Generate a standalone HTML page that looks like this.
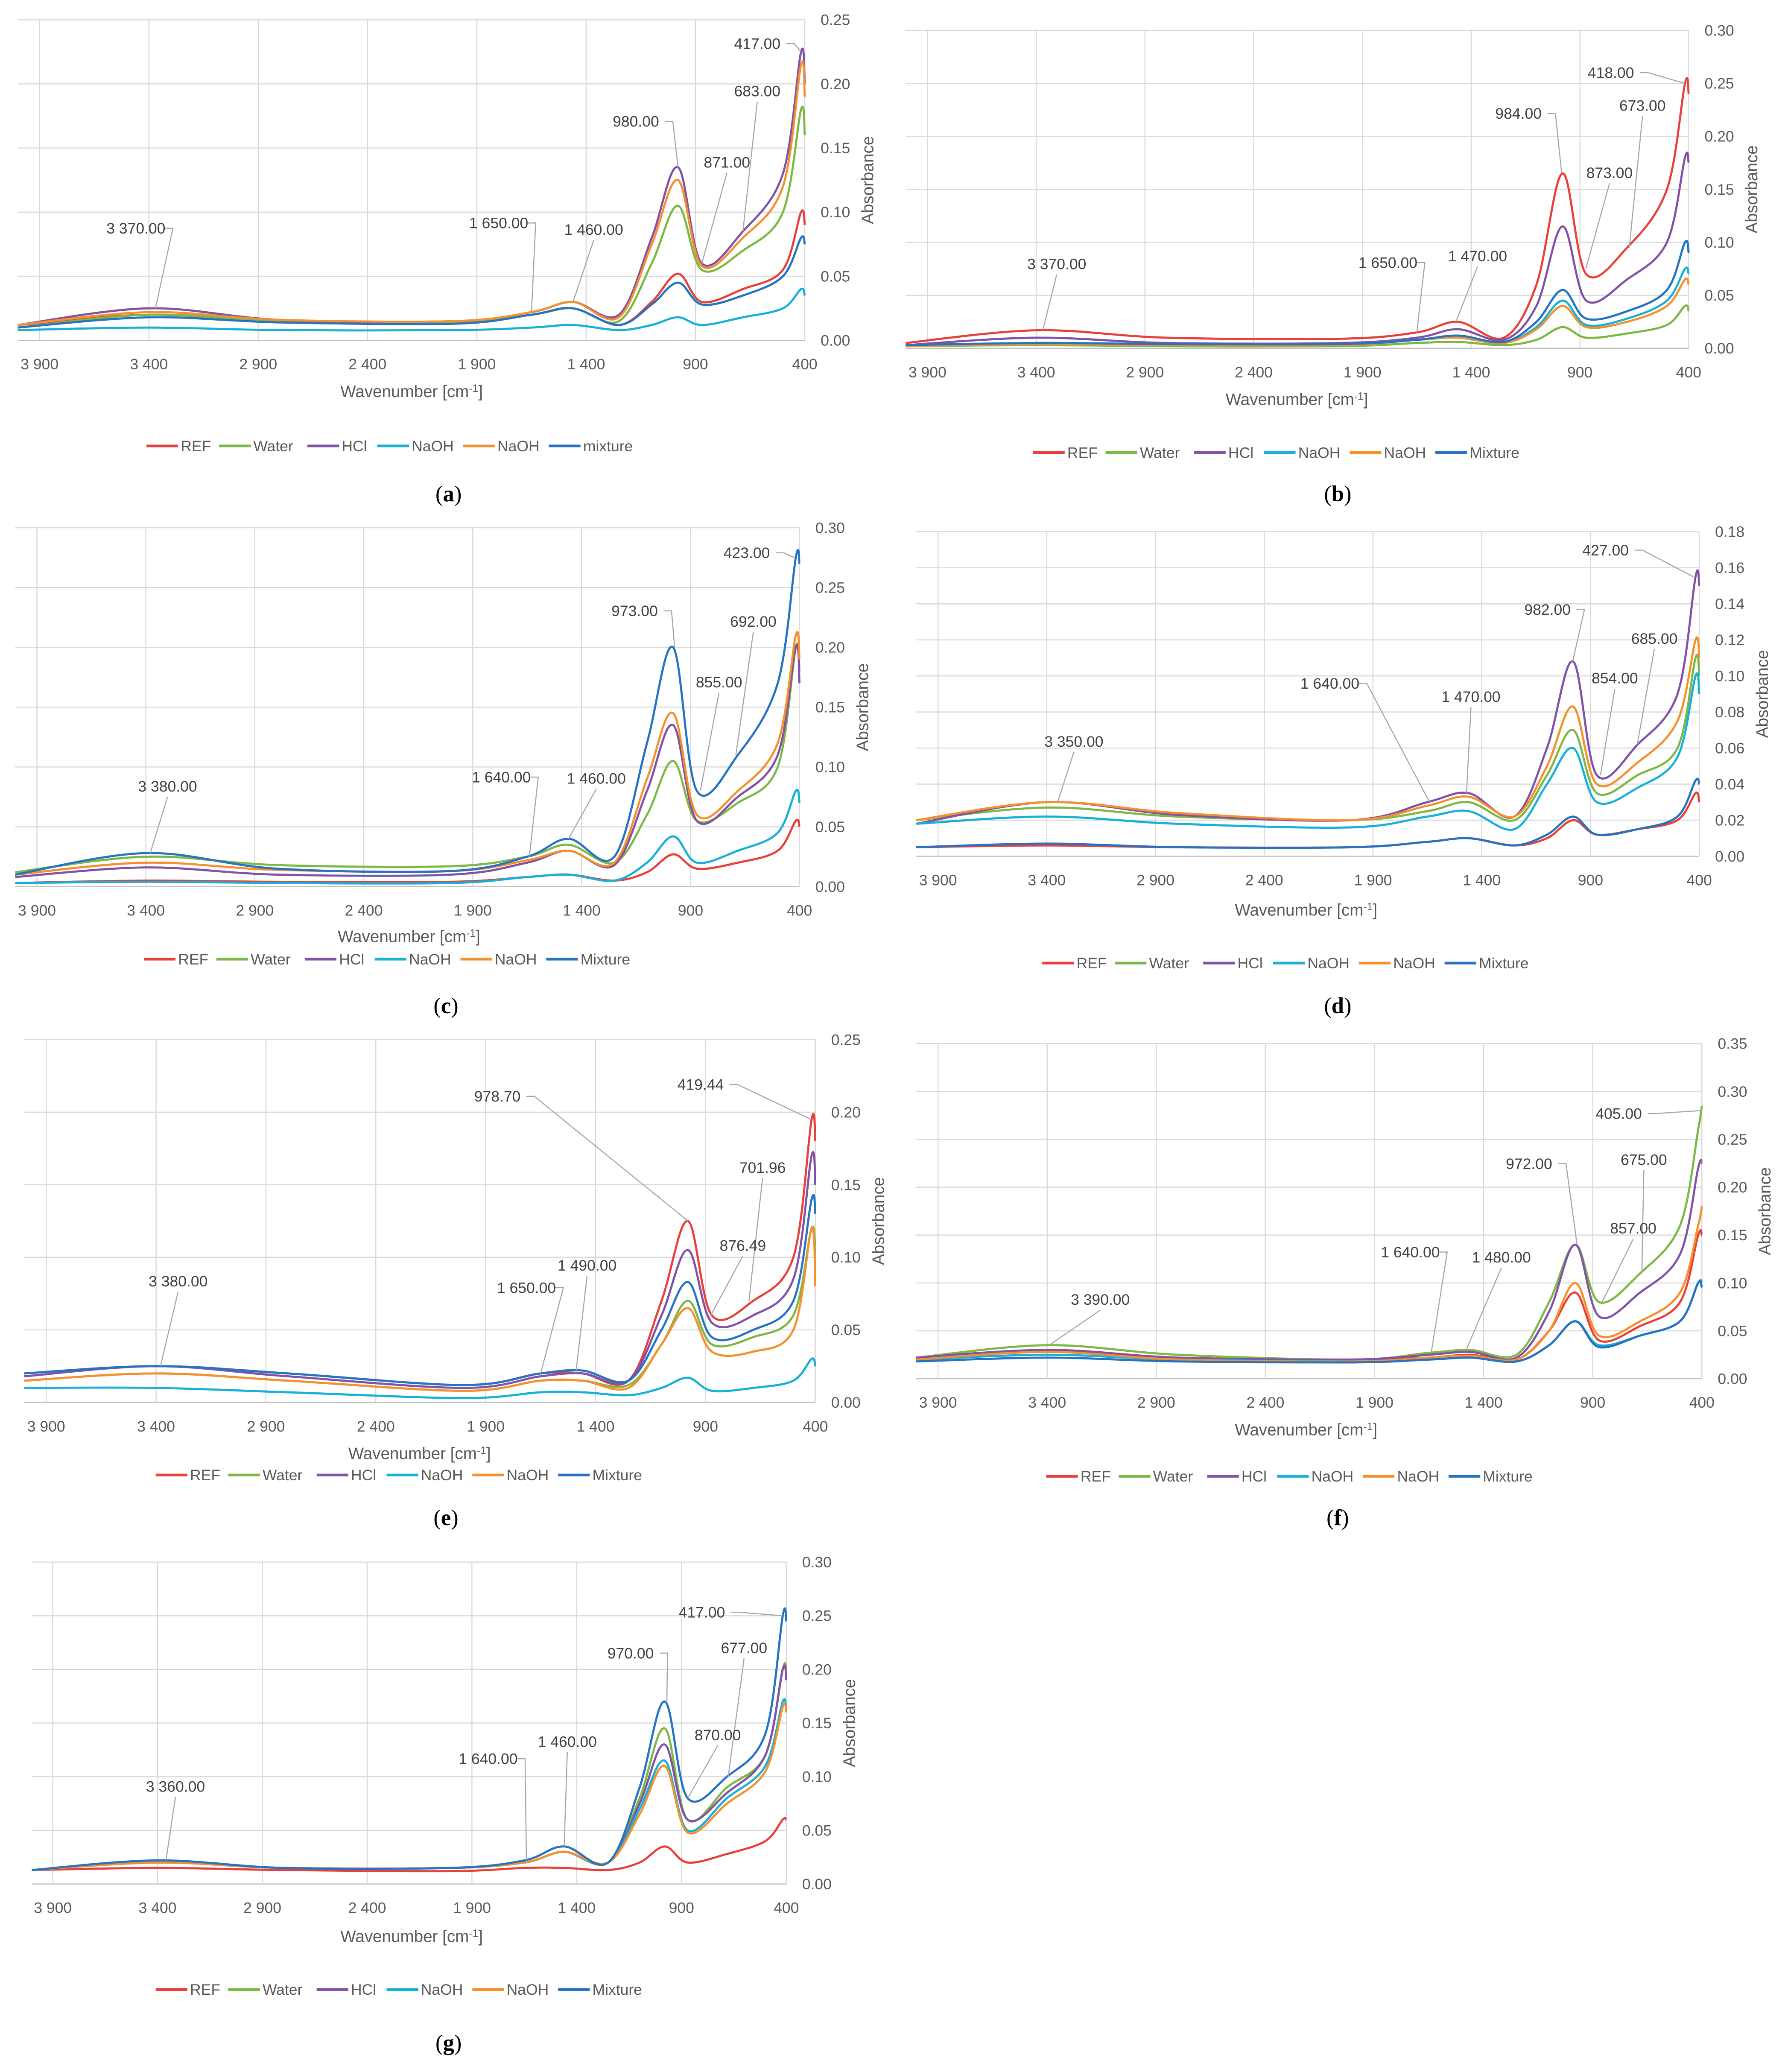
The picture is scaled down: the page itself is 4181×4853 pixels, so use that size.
<!DOCTYPE html>
<html><head><meta charset="utf-8">
<style>
html,body{margin:0;padding:0;background:#fff;}
svg{display:block;}
text{font-family:"Liberation Sans",sans-serif;}
</style></head>
<body>
<svg id="fig" width="4181" height="4853" viewBox="0 0 1353 1570.5" xmlns="http://www.w3.org/2000/svg"></svg>
<script>
// ---- shared data ----
const wavenumbers = [4000,3400,2800,2000,1650,1460,1250,1100,980,871,683,500,417,400];
const seriesNames = ["REF","Water","HCl","NaOH","NaOH","Mixture"];
const seriesColors = ["#e8403a","#7cb843","#8152a8","#16b0d8","#f6902c","#2673c4"];
const xTicks = [3900,3400,2900,2400,1900,1400,900,400];
const xTickLabels = ["3 900","3 400","2 900","2 400","1 900","1 400","900","400"];

// panel a
const aREF=[.012,.02,.015,.014,.02,.025,.012,.03,.052,.03,.04,.055,.10,.09];
const aWater=[.01,.02,.015,.014,.02,.025,.015,.06,.105,.055,.07,.10,.18,.16];
const aHCl=[.012,.025,.016,.015,.022,.03,.02,.08,.135,.06,.085,.13,.225,.2];
const aNaOH1=[.008,.01,.008,.008,.01,.012,.008,.012,.018,.012,.018,.025,.04,.035];
const aNaOH2=[.012,.022,.016,.015,.022,.03,.018,.075,.125,.058,.08,.12,.215,.19];
const aMix=[.01,.018,.014,.013,.02,.025,.012,.028,.045,.028,.035,.05,.08,.075];
// panel b
const bREF=[.005,.017,.01,.009,.015,.025,.01,.06,.165,.07,.095,.15,.25,.24];
const bWater=[.002,.003,.002,.002,.005,.006,.003,.008,.02,.01,.014,.022,.04,.035];
const bHCl=[.003,.01,.005,.005,.01,.018,.008,.04,.115,.045,.065,.1,.18,.175];
const bNaOH1=[.002,.005,.004,.004,.008,.01,.005,.02,.045,.022,.028,.045,.075,.07];
const bNaOH2=[.002,.004,.003,.003,.008,.01,.005,.018,.04,.02,.025,.04,.065,.06];
const bMix=[.003,.005,.004,.004,.008,.012,.006,.025,.055,.028,.035,.055,.1,.09];
// panel c
const cREF=[.003,.005,.004,.004,.008,.01,.005,.012,.027,.015,.02,.03,.055,.05];
const cWater=[.012,.025,.018,.017,.025,.035,.02,.06,.105,.055,.07,.1,.2,.18];
const cHCl=[.008,.016,.01,.01,.02,.03,.018,.08,.135,.055,.075,.11,.2,.17];
const cNaOH1=[.003,.004,.003,.003,.008,.01,.005,.02,.042,.02,.03,.045,.08,.07];
const cNaOH2=[.01,.02,.014,.013,.022,.03,.02,.09,.145,.06,.08,.12,.21,.19];
const cMix=[.01,.028,.015,.013,.025,.04,.025,.12,.2,.08,.11,.17,.275,.27];
// panel d
const dREF=[.005,.006,.005,.005,.008,.01,.006,.01,.02,.012,.015,.02,.035,.03];
const dWater=[.02,.027,.022,.02,.025,.03,.02,.045,.07,.035,.045,.06,.11,.1];
const dHCl=[.018,.03,.023,.02,.03,.035,.022,.06,.108,.045,.062,.09,.155,.15];
const dNaOH1=[.018,.022,.018,.016,.022,.025,.015,.04,.06,.03,.038,.055,.1,.09];
const dNaOH2=[.02,.03,.024,.02,.028,.033,.022,.05,.083,.04,.052,.075,.12,.11];
const dMix=[.005,.007,.005,.005,.008,.01,.006,.012,.022,.012,.015,.022,.042,.04];
// panel e
const eREF=[.02,.025,.02,.012,.02,.02,.015,.07,.125,.06,.07,.1,.195,.18];
const eWater=[.015,.02,.015,.008,.015,.015,.012,.04,.07,.04,.045,.06,.12,.1];
const eHCl=[.018,.025,.018,.01,.018,.02,.015,.06,.105,.055,.06,.085,.17,.15];
const eNaOH1=[.01,.01,.007,.003,.007,.007,.005,.01,.017,.008,.01,.015,.03,.025];
const eNaOH2=[.015,.02,.015,.008,.015,.015,.01,.04,.065,.035,.035,.05,.12,.08];
const eMix=[.02,.025,.02,.012,.02,.022,.015,.05,.083,.045,.05,.07,.14,.13];
// panel f
const fREF=[.02,.03,.022,.02,.022,.025,.02,.05,.09,.04,.055,.08,.15,.15];
const fWater=[.022,.035,.025,.02,.027,.03,.025,.08,.14,.08,.11,.16,.26,.285];
const fHCl=[.022,.03,.022,.02,.025,.028,.022,.07,.14,.065,.09,.13,.22,.225];
const fNaOH1=[.02,.025,.02,.018,.02,.022,.018,.035,.06,.035,.045,.06,.1,.1];
const fNaOH2=[.02,.028,.02,.018,.022,.024,.02,.05,.1,.045,.06,.09,.16,.18];
const fMix=[.018,.022,.018,.017,.02,.022,.018,.035,.06,.033,.045,.06,.1,.095];
// panel g
const gREF=[.013,.015,.013,.012,.015,.015,.013,.02,.035,.02,.028,.04,.06,.06];
const gWater=[.013,.02,.015,.015,.02,.03,.02,.08,.145,.06,.09,.12,.2,.2];
const gHCl=[.013,.02,.015,.015,.02,.03,.02,.075,.13,.06,.085,.12,.2,.19];
const gNaOH1=[.013,.02,.015,.015,.02,.03,.02,.07,.115,.05,.08,.11,.17,.16];
const gNaOH2=[.013,.02,.015,.015,.02,.03,.02,.065,.11,.048,.075,.105,.165,.16];
const gMix=[.013,.022,.015,.015,.022,.035,.02,.09,.17,.08,.1,.14,.25,.245];

// annotations: label, wavenumber, absorbance
const aPeaks=[["417.00",417,.225],["683.00",683,.085],["980.00",980,.135],["871.00",871,.06],["1 650.00",1650,.022],["1 460.00",1460,.03],["3 370.00",3370,.025]];
const bPeaks=[["418.00",418,.25],["673.00",673,.095],["984.00",984,.165],["873.00",873,.075],["1 650.00",1650,.015],["1 470.00",1470,.025],["3 370.00",3370,.017]];
const cPeaks=[["423.00",423,.275],["692.00",692,.11],["973.00",973,.2],["855.00",855,.08],["1 640.00",1640,.025],["1 460.00",1460,.04],["3 380.00",3380,.028]];
const dPeaks=[["427.00",427,.155],["685.00",685,.062],["982.00",982,.108],["854.00",854,.045],["1 640.00",1640,.03],["1 470.00",1470,.035],["3 350.00",3350,.03]];
const ePeaks=[["419.44",419,.195],["701.96",702,.07],["978.70",979,.125],["876.49",876,.06],["1 490.00",1490,.02],["1 650.00",1650,.02],["3 380.00",3380,.025]];
const fPeaks=[["405.00",405,.28],["675.00",675,.11],["972.00",972,.14],["857.00",857,.08],["1 640.00",1640,.027],["1 480.00",1480,.03],["3 390.00",3390,.035]];
const gPeaks=[["417.00",417,.25],["677.00",677,.1],["970.00",970,.17],["870.00",870,.08],["1 640.00",1640,.022],["1 460.00",1460,.035],["3 360.00",3360,.022]];

const panels=[
 {id:"a",x39:30,x4:610,y0:258,yT:15,ymax:.25,step:.05,title:[312,297],leg:[111,338],cap:[340,374],mix:"mixture",s:[aREF,aWater,aHCl,aNaOH1,aNaOH2,aMix],pk:aPeaks,
  lab:[[574,33],[574,69],[482,92],[551,123],[378,169],[450,174],[103,173]]},
 {id:"b",x39:703,x4:1280,y0:264,yT:23,ymax:.30,step:.05,title:[983,303],leg:[783,343],cap:[1014,374],mix:"Mixture",s:[bREF,bWater,bHCl,bNaOH1,bNaOH2,bMix],pk:bPeaks,
  lab:[[1221,55],[1245,80],[1151,86],[1220,131],[1052,199],[1120,194],[801,200]]},
 {id:"c",x39:28,x4:606,y0:672,yT:400,ymax:.30,step:.05,title:[310,710],leg:[109,727],cap:[338,762],mix:"Mixture",s:[cREF,cWater,cHCl,cNaOH1,cNaOH2,cMix],pk:cPeaks,
  lab:[[566,419],[571,471],[481,463],[545,517],[380,589],[452,590],[127,596]]},
 {id:"d",x39:711,x4:1288,y0:649,yT:403,ymax:.18,step:.02,title:[990,690],leg:[790,730],cap:[1014,762],mix:"Mixture",s:[dREF,dWater,dHCl,dNaOH1,dNaOH2,dMix],pk:dPeaks,
  lab:[[1217,417],[1254,484],[1173,462],[1224,514],[1008,518],[1115,528],[814,562]]},
 {id:"e",x39:35,x4:618,y0:1063,yT:788,ymax:.25,step:.05,title:[318,1102],leg:[118,1118],cap:[338,1150],mix:"Mixture",s:[eREF,eWater,eHCl,eNaOH1,eNaOH2,eMix],pk:ePeaks,
  lab:[[531,822],[578,885],[377,831],[563,944],[445,959],[399,976],[135,971]]},
 {id:"f",x39:711,x4:1290,y0:1045,yT:791,ymax:.35,step:.05,title:[990,1084],leg:[793,1119],cap:[1014,1150],mix:"Mixture",s:[fREF,fWater,fHCl,fNaOH1,fNaOH2,fMix],pk:fPeaks,
  lab:[[1227,844],[1246,879],[1159,882],[1238,931],[1069,949],[1138,953],[834,985]]},
 {id:"g",x39:40,x4:596,y0:1428,yT:1184,ymax:.30,step:.05,title:[312,1468],leg:[118,1508],cap:[340,1548],mix:"Mixture",s:[gREF,gWater,gHCl,gNaOH1,gNaOH2,gMix],pk:gPeaks,
  lab:[[532,1222],[564,1249],[478,1253],[544,1315],[370,1333],[430,1320],[133,1354]]}
];

const NS="http://www.w3.org/2000/svg";
const svg=document.getElementById("fig");
function el(tag,attrs,parent,txt){const e=document.createElementNS(NS,tag);for(const k in attrs)e.setAttribute(k,attrs[k]);if(txt!==undefined)e.textContent=txt;(parent||svg).appendChild(e);return e;}

function smoothPath(pts){
  let d="M"+pts[0][0].toFixed(2)+","+pts[0][1].toFixed(2);
  for(let i=0;i<pts.length-1;i++){
    const p0=pts[Math.max(0,i-1)],p1=pts[i],p2=pts[i+1],p3=pts[Math.min(pts.length-1,i+2)];
    const c1=[p1[0]+(p2[0]-p0[0])/6,p1[1]+(p2[1]-p0[1])/6];
    const c2=[p2[0]-(p3[0]-p1[0])/6,p2[1]-(p3[1]-p1[1])/6];
    d+=" C"+c1.map(v=>v.toFixed(2)).join(",")+" "+c2.map(v=>v.toFixed(2)).join(",")+" "+p2[0].toFixed(2)+","+p2[1].toFixed(2);
  }
  return d;
}

panels.forEach(P=>{
  const g=el("g",{},svg);
  
  
  const k=(P.x4-P.x39)/3500;
  const X=w=>P.x39+(3900-w)*k;
  const Y=v=>P.y0-(v/P.ymax)*(P.y0-P.yT);
  const left=X(4000), right=X(400);
  const n=Math.round(P.ymax/P.step);
  for(let i=0;i<=n;i++){
    const v=i*P.step, y=Y(v);
    const gl=el("line",{x1:left,x2:right,y1:y,y2:y,stroke:i===0?"#bfbfbf":"#d9d9d9","stroke-width":0.8},g);
    
    
    const t=el("text",{x:right+12,y:y+4,"font-size":11.5,fill:"#595959"},g,v.toFixed(2));
    
    
  }
  xTicks.forEach((w,i)=>{
    const x=X(w);
    const vl=el("line",{x1:x,x2:x,y1:P.yT,y2:P.y0,stroke:"#d9d9d9","stroke-width":0.8},g);
    
    
    const t=el("text",{x:x,y:P.y0+22,"font-size":11.5,fill:"#595959","text-anchor":"middle"},g,xTickLabels[i]);
    
    
  });
  const xt=el("text",{x:P.title[0],y:P.title[1]+4,"font-size":12.5,fill:"#595959","text-anchor":"middle"},g);
  
  
  xt.innerHTML='Wavenumber [cm<tspan dy="-4" font-size="8">-1</tspan><tspan dy="4">]</tspan>';
  const ycx=right+52, ycy=(P.y0+P.yT)/2;
  const yt=el("text",{x:ycx,y:ycy,"font-size":12.5,fill:"#595959","text-anchor":"middle",transform:`rotate(-90 ${ycx} ${ycy})`},g,"Absorbance");
  
  
  P.s.forEach((arr,si)=>{
    const pts=wavenumbers.map((w,i)=>[X(w),Y(arr[i])]);
    const p=el("path",{d:smoothPath(pts),fill:"none",stroke:seriesColors[si],"stroke-width":1.6,"stroke-linejoin":"round"},g);
    
    
  });
  P.pk.forEach((a,i)=>{
    const [lx,ly]=P.lab[i];
    const t=el("text",{x:lx,y:ly+4,"font-size":11.5,fill:"#404040","text-anchor":"middle"},g,a[0]);
    
    
    const px=X(a[1]), py=Y(a[2]);
    const sx= px>lx ? lx+22 : lx; const sy= ly+ (px>lx?0:8);
    const l=el("polyline",{points:`${sx},${sy} ${px>lx?sx+6:sx},${sy} ${px},${py}`,fill:"none",stroke:"#a6a6a6","stroke-width":0.8},g);
    
    
  });
  let lx=P.leg[0]; const ly=P.leg[1];
  const names=["REF","Water","HCl","NaOH","NaOH",P.mix];
  const widths={REF:21,Water:33,HCl:19,NaOH:31,Mixture:43,mixture:43};
  names.forEach((nm,si)=>{
    const ln=el("line",{x1:lx,x2:lx+24,y1:ly,y2:ly,stroke:seriesColors[si],"stroke-width":2},g);
    
    
    const t=el("text",{x:lx+26,y:ly+4,"font-size":11.5,fill:"#595959"},g,nm);
    
    
    lx+=26+widths[nm]+8;
  });
  const cap=el("text",{x:P.cap[0],y:P.cap[1]+6,"font-size":17,fill:"#000","text-anchor":"middle",style:"font-family:'Liberation Serif',serif"},g);
  
  
  cap.innerHTML='(<tspan font-weight="bold">'+P.id+'</tspan>)';
});
</script>
</body></html>
